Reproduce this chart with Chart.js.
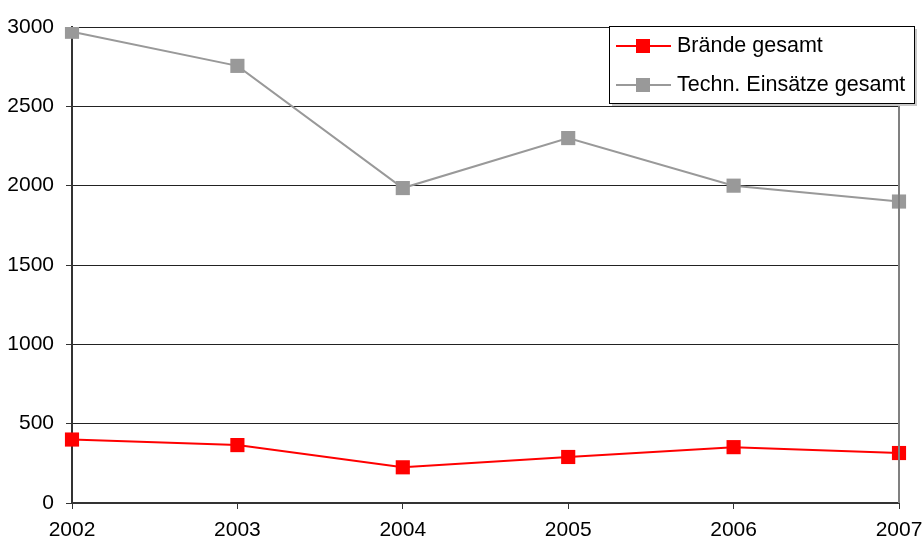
<!DOCTYPE html>
<html>
<head>
<meta charset="utf-8">
<script src="https://cdn.jsdelivr.net/npm/chart.js@4/dist/chart.umd.min.js"></script>
<style>
  html, body { margin: 0; padding: 0; background: #fff; }
  #wrap { width: 922px; height: 542px; }
</style>
</head>
<body>
<div id="wrap"><canvas id="chart" width="922" height="542"></canvas></div>
<script>
// Jahre und Einsatzzahlen
const years = ['2002', '2003', '2004', '2005', '2006', '2007'];
const braende = [400, 365, 225, 290, 352, 315];
const technEinsaetze = [2970, 2755, 1985, 2300, 2000, 1900];
const yTicks = [0, 500, 1000, 1500, 2000, 2500, 3000];

const FONT = 'Arial, "Liberation Sans", sans-serif';
const RED = '#ff0000';
const GRAY = '#999999';

// Legend box + right border of the plot area
const frameAndLegend = {
    id: 'frameAndLegend',
    afterDraw(chart) {
        const ctx = chart.ctx;
        const a = chart.chartArea;
        ctx.save();
        // right border
        ctx.strokeStyle = '#808080';
        ctx.lineWidth = 2;
        ctx.beginPath();
        ctx.moveTo(a.right, a.top);
        ctx.lineTo(a.right, a.bottom);
        ctx.stroke();

        // legend
        const bx = 609, by = 26, bw = 305, bh = 77;
        ctx.fillStyle = '#c8c8c8';
        ctx.fillRect(bx + 3, by + 3, bw, bh);
        ctx.fillStyle = '#ffffff';
        ctx.fillRect(bx, by, bw, bh);
        ctx.strokeStyle = '#000000';
        ctx.lineWidth = 1;
        ctx.strokeRect(bx + 0.5, by + 0.5, bw, bh);

        const items = chart.data.datasets.map(ds => ({ label: ds.label, color: ds.borderColor }));
        items.forEach((it, i) => {
            const y = by + 20 + i * 39;
            ctx.strokeStyle = it.color;
            ctx.lineWidth = 2;
            ctx.beginPath();
            ctx.moveTo(616, y);
            ctx.lineTo(671, y);
            ctx.stroke();
            ctx.fillStyle = it.color;
            ctx.fillRect(636, y - 7, 14, 14);
            ctx.fillStyle = '#000000';
            ctx.font = '21.5px ' + FONT;
            ctx.textAlign = 'left';
            ctx.textBaseline = 'middle';
            ctx.fillText(it.label, 677, y);
        });
        ctx.restore();
    }
};

new Chart(document.getElementById('chart'), {
    type: 'line',
    data: {
        labels: years,
        datasets: [
            {
                label: 'Brände gesamt',
                data: braende,
                borderColor: RED,
                backgroundColor: RED,
                borderWidth: 2,
                pointStyle: 'rect',
                pointRadius: 10,
                pointBorderWidth: 0,
                tension: 0
            },
            {
                label: 'Techn. Einsätze gesamt',
                data: technEinsaetze,
                borderColor: GRAY,
                backgroundColor: GRAY,
                borderWidth: 2,
                pointStyle: 'rect',
                pointRadius: 10,
                pointBorderWidth: 0,
                tension: 0
            }
        ]
    },
    options: {
        responsive: false,
        animation: false,
        events: [],
        layout: { padding: { top: 27, right: 23, left: 0, bottom: 0 } },
        plugins: {
            legend: { display: false },
            tooltip: { enabled: false }
        },
        scales: {
            x: {
                offset: false,
                grid: {
                    drawOnChartArea: false,
                    drawTicks: true,
                    tickLength: 6,
                    tickColor: '#333333'
                },
                border: { color: '#333333', width: 2 },
                ticks: {
                    color: '#000000',
                    font: { family: FONT, size: 21 },
                    padding: 9,
                    maxRotation: 0,
                    autoSkip: false
                },
                afterFit(scale) {
                    scale.height = 39;
                    scale.paddingLeft = 0;
                    scale.paddingRight = 0;
                }
            },
            y: {
                min: 0,
                max: 3000,
                afterBuildTicks(scale) { scale.ticks = yTicks.map(v => ({ value: v })); },
                grid: {
                    color: '#222222',
                    lineWidth: 1,
                    drawTicks: true,
                    tickLength: 6,
                    tickColor: '#333333'
                },
                border: { color: '#333333', width: 2 },
                ticks: {
                    color: '#000000',
                    font: { family: FONT, size: 21 },
                    padding: 12,
                    callback: v => String(v)
                },
                afterFit(scale) {
                    scale.width = 72;
                    scale.paddingTop = 0;
                    scale.paddingBottom = 0;
                }
            }
        }
    },
    plugins: [frameAndLegend]
});
</script>
</body>
</html>
